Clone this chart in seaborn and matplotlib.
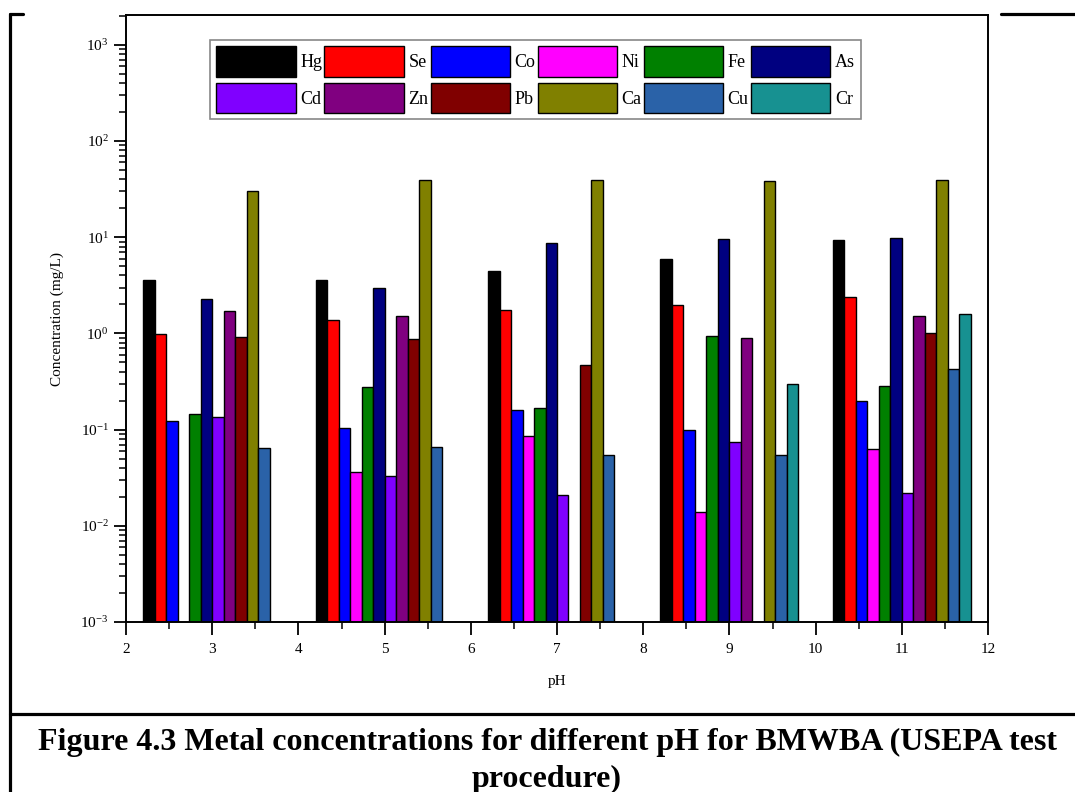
import numpy as np
import pandas as pd
import seaborn as sns
import matplotlib
matplotlib.use("Agg")
import matplotlib.pyplot as plt
from matplotlib.lines import Line2D
from matplotlib.ticker import LogLocator, MultipleLocator, NullFormatter

# ---------------- data ----------------
metals = ["Hg", "Se", "Co", "Ni", "Fe", "As", "Cd", "Zn", "Pb", "Ca", "Cu", "Cr"]
colors = ["#000000", "#FF0000", "#0000FF", "#FF00FF", "#008000", "#000080",
          "#8000FF", "#800080", "#800000", "#808000", "#2A62A8", "#179191"]
ph_levels = [3, 5, 7, 9, 11]

# concentrations (mg/L); None = not detected / not drawn
conc_ph3 = [3.6, 0.99, 0.122, None, 0.146, 2.29, 0.135, 1.73, 0.915, 29.9, 0.064, None]
conc_ph5 = [3.56, 1.37, 0.105, 0.0365, 0.275, 2.96, 0.0326, 1.51, 0.873, 39.6, 0.0658, None]
conc_ph7 = [4.44, 1.76, 0.161, 0.085, 0.166, 8.62, 0.021, None, 0.468, 39.6, 0.054, None]
conc_ph9 = [5.93, 1.97, 0.099, 0.014, 0.946, 9.49, 0.0748, 0.894, None, 38.3, 0.0548, 0.295]
conc_ph11 = [9.33, 2.38, 0.198, 0.0627, 0.281, 9.72, 0.0219, 1.51, 1.02, 39.2, 0.426, 1.59]

rows = []
for ph, vals in zip(ph_levels, [conc_ph3, conc_ph5, conc_ph7, conc_ph9, conc_ph11]):
    for m, v in zip(metals, vals):
        if v is not None:
            rows.append({"pH": ph, "metal": m, "conc": v})
df = pd.DataFrame(rows)

# ---------------- style ----------------
sns.set_style("ticks")
plt.rcParams["font.family"] = ["Liberation Serif", "DejaVu Serif"]
plt.rcParams["mathtext.default"] = "regular"
plt.rcParams["axes.unicode_minus"] = False
plt.rcParams["text.color"] = "black"
plt.rcParams["axes.labelcolor"] = "black"
plt.rcParams["xtick.color"] = "black"
plt.rcParams["ytick.color"] = "black"

fig = plt.figure(figsize=(10.75, 7.92), dpi=100)
ax = fig.add_axes([126 / 1075, 1 - 622 / 792, (988 - 126) / 1075, (622 - 15) / 792])

sns.barplot(data=df, x="pH", y="conc", hue="metal", hue_order=metals,
            palette=colors, saturation=1, native_scale=True, log_scale=(False, True),
            errorbar=None, edgecolor="black", linewidth=1.0, width=0.8,
            ax=ax, legend=True)

ax.set_yscale("log")
ax.set_ylim(1e-3, 10 ** 3.31)
ax.set_xlim(2, 12)
ax.set_xticks(range(2, 13))
ax.xaxis.set_minor_locator(MultipleLocator(0.5))
ax.yaxis.set_major_locator(LogLocator(base=10, numticks=20))
ax.yaxis.set_minor_locator(LogLocator(base=10, subs=np.arange(2, 10), numticks=20))
ax.yaxis.set_minor_formatter(NullFormatter())

ax.tick_params(axis="both", which="major", direction="out", length=9, width=1.3,
               labelsize=11, colors="black")
ax.tick_params(axis="both", which="minor", direction="out", length=5, width=1.1)
ax.tick_params(axis="x", pad=6)
for s in ax.spines.values():
    s.set_linewidth(1.4)
    s.set_color("black")

ax.set_xlabel("pH", fontsize=11, labelpad=14, color="black")
ax.set_ylabel("Concentration (mg/L)", fontsize=11, labelpad=12, color="black")

# legend in row-major order (matplotlib fills columns first)
handles, labels = ax.get_legend_handles_labels()
hmap = dict(zip(labels, handles))
ax.get_legend().remove()
order = []
for c in range(6):
    order.append(metals[c])
    order.append(metals[c + 6])
leg = ax.legend([hmap[k] for k in order], order, ncol=6, loc="upper left",
                bbox_to_anchor=((210 - 126) / 862, (622 - 40) / 607),
                fontsize=13, handlelength=4.4, handleheight=2.2,
                handletextpad=0.25, columnspacing=0.12, labelspacing=0.35,
                borderpad=0.35, borderaxespad=0, fancybox=False, framealpha=1,
                edgecolor="#888888")
leg.get_frame().set_linewidth(1.2)
for h in leg.legend_handles:
    h.set_edgecolor("black")
    h.set_linewidth(1.0)

# page frame lines
lw = 2.3
fig.add_artist(Line2D([10 / 1075, 10 / 1075], [1 - 14 / 792, 0], color="black", lw=lw))
fig.add_artist(Line2D([10 / 1075, 23 / 1075], [1 - 14 / 792, 1 - 14 / 792], color="black", lw=lw))
fig.add_artist(Line2D([1001 / 1075, 1], [1 - 14 / 792, 1 - 14 / 792], color="black", lw=lw))
fig.add_artist(Line2D([10 / 1075, 1], [1 - 714 / 792, 1 - 714 / 792], color="black", lw=lw))

# caption
fig.text(547 / 1075, 1 - 742 / 792,
         "Figure 4.3 Metal concentrations for different pH for BMWBA (USEPA test",
         ha="center", va="center", fontsize=23, fontweight="bold", color="black")
fig.text(547 / 1075, 1 - 779 / 792, "procedure)",
         ha="center", va="center", fontsize=23, fontweight="bold", color="black")

fig.savefig("out.png", dpi=100)
